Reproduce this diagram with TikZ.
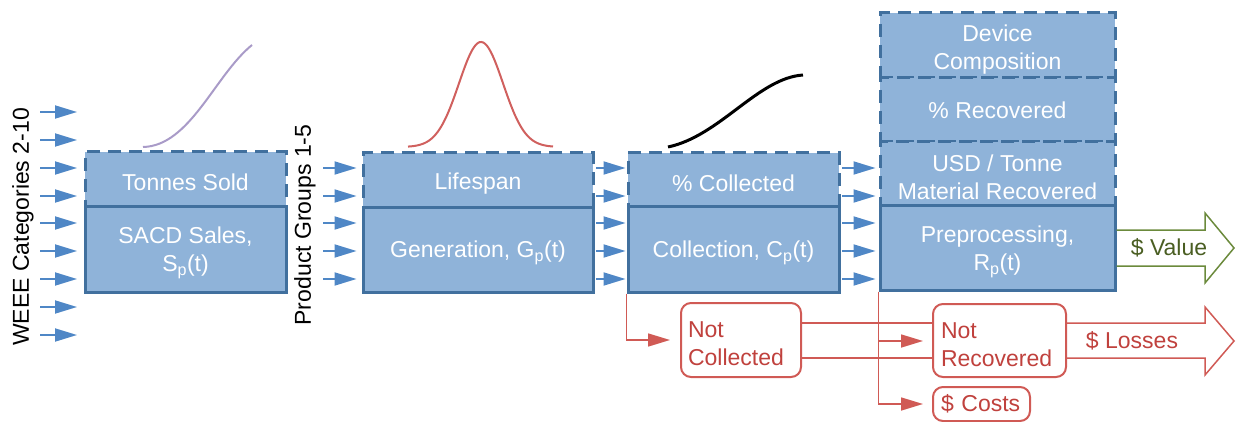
\documentclass[tikz,border=0pt]{standalone}
\usepackage{fontspec}
\setmainfont{Liberation Sans}
\usetikzlibrary{arrows.meta}
\definecolor{boxfill}{HTML}{8FB3D9}
\definecolor{boxline}{HTML}{41709E}
\definecolor{flowblue}{HTML}{4F87C6}
\definecolor{lossred}{HTML}{D05A55}
\definecolor{lossredtext}{HTML}{C0413D}
\definecolor{valgreen}{HTML}{6B8A3C}
\definecolor{valtext}{HTML}{4A5E22}
\definecolor{sigpurple}{HTML}{A99BC8}
\definecolor{bellred}{HTML}{D0605E}
\begin{document}
\begin{tikzpicture}[x=1pt,y=-1pt,
  txt/.style={font=\fontsize{23}{28}\selectfont},
  lowered/.style={execute at begin node={\rule{0pt}{24pt}}},
  loweredtwo/.style={execute at begin node={\rule{0pt}{53pt}}},
  basebox/.style={txt, rectangle, fill=boxfill, draw=boxline, line width=3pt, text=white, align=center, inner sep=0pt},
  dbox/.style={basebox, dash pattern=on 13pt off 8pt},
  sbox/.style={basebox},
  flow/.style={draw=flowblue, line width=1.8pt, -{Triangle[length=22pt,width=13pt,fill=flowblue]}},
  redline/.style={draw=lossred, line width=1.6pt},
  redflow/.style={redline, -{Triangle[length=22pt,width=13pt,fill=lossred]}},
  redbox/.style={txt, rectangle, rounded corners=10pt, draw=lossred, line width=2pt, fill=white, text=lossredtext, align=left, inner ysep=0pt},
  bigarrow/.style={line width=1.5pt, line join=miter},
  sidelabel/.style={txt, rotate=90, text=black, inner sep=0pt},
]
\useasboundingbox (0,0) rectangle (1236,422);

% curves
\draw[sigpurple, line width=2pt] (143,147) .. controls (190,146) and (215,75) .. (252,45);
\draw[bellred, line width=2pt] plot[domain=-73:72, samples=80, smooth] ({481+\x}, {147-105*exp(-0.5*(\x/22)^2)});
\draw[black, line width=3pt] (668,147) .. controls (720,136) and (758,78) .. (803,75);

% box 1
\node[dbox, lowered, minimum width=201, minimum height=54] (ts) at (185.5,179) {Tonnes Sold};
\node[sbox, loweredtwo, minimum width=201, minimum height=86] (sacd) at (185.5,249) {SACD Sales,\\S\textsubscript{p}(t)};
% box 2
\node[dbox, lowered, minimum width=230, minimum height=54] (life) at (478,180) {Lifespan};
\node[sbox, lowered, minimum width=230, minimum height=85] (gen) at (478,249.5) {Generation, G\textsubscript{p}(t)};
% box 3
\node[dbox, lowered, minimum width=211, minimum height=53] (pc) at (733.5,179.5) {\% Collected};
\node[sbox, lowered, minimum width=211, minimum height=86] (col) at (733.5,249) {Collection, C\textsubscript{p}(t)};
% box 4
\node[dbox, loweredtwo, minimum width=235, minimum height=65] (dev) at (997.5,45.5) {Device\\Composition};
\node[dbox, minimum width=235, minimum height=64] (prec) at (997.5,110) {\% Recovered};
\node[dbox, loweredtwo, minimum width=235, minimum height=63] (usd) at (997.5,173.5) {USD / Tonne\\Material Recovered};
\node[sbox, loweredtwo, minimum width=235, minimum height=85] (prep) at (997.5,247.5) {Preprocessing,\\R\textsubscript{p}(t)};

% side labels
\node[sidelabel] (weee) at (23,227) {WEEE Categories 2-10};
\node[sidelabel] (pg) at (305,225) {Product Groups 1-5};

% input arrows
\foreach \yy [count=\i] in {112,140,168,196,223,251,279,307,335} {
  \coordinate (win\i) at (40,\yy);
  \coordinate (wout\i) at (77,\yy);
  \draw[flow] (win\i) -- (wout\i);
}
\foreach \yy [count=\i] in {168,196,223,251,279} {
  \coordinate (pin\i) at (323,\yy);
  \draw[flow, shorten >=5pt] (pin\i) -- (gen.west |- 0,\yy);
  \draw[flow, shorten <=1.5pt, shorten >=1pt] (gen.east |- 0,\yy) -- (col.west |- 0,\yy);
  \draw[flow, shorten <=1.5pt, shorten >=3pt] (col.east |- 0,\yy) -- (prep.west |- 0,\yy);
}

% red boxes
\node[redbox, lowered, minimum height=74, text width=106, inner xsep=7pt] (nc) at (741,340) {Not\\Collected};
\node[redbox, lowered, minimum height=73, text width=117, inner xsep=8pt] (nr) at (999.5,340.5) {Not\\Recovered};
\node[redbox, minimum height=34, text width=81, inner xsep=8pt] (cost) at (981.5,404) {\$ Costs};

% red flows
\coordinate (ncarr) at (670,340);
\coordinate (nrarr) at (923,341);
\coordinate (costarr) at (923,404);
\draw[redflow] (col.south west) |- (ncarr);
\draw[redline] (nc.east |- 0,323) -- (nr.west |- 0,323);
\draw[redline] (nc.east |- 0,358) -- (nr.west |- 0,358);
\draw[redflow] (prep.south west) |- (nrarr);
\draw[redflow] (prep.south west) |- (costarr);

% big arrows
\draw[bigarrow, draw=lossred] (nr.east |- 0,323) -- (1205,323) -- (1205,307) -- (1234,341) -- (1205,375) -- (1205,358) -- (nr.east |- 0,358);
\node[txt, text=lossredtext] (loss) at (1132,341) {\$ Losses};
\draw[bigarrow, draw=valgreen] (prep.east |- 0,230) -- (1205,230) -- (1205,213) -- (1234,248) -- (1205,283) -- (1205,266) -- (prep.east |- 0,266);
\node[txt, text=valtext] (val) at (1169,248) {\$ Value};
\end{tikzpicture}
\end{document}
